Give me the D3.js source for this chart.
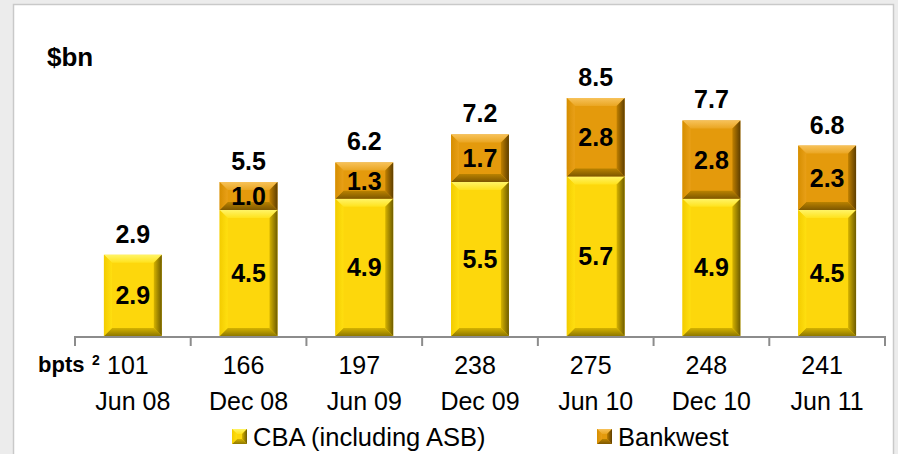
<!DOCTYPE html>
<meta charset="utf-8">
<script src="https://d3js.org/d3.v7.min.js"></script>
<style>
  body { margin: 0; background: #ececec; }
  svg { font-family: "Liberation Sans", Arial, sans-serif; }
</style>
<div id="my_dataviz"></div>
<script>

  // data
  var periods = ["Jun 08", "Dec 08", "Jun 09", "Dec 09", "Jun 10", "Dec 10", "Jun 11"];
  var cba = [2.9, 4.5, 4.9, 5.5, 5.7, 4.9, 4.5];
  var bankwest = [0, 1.0, 1.3, 1.7, 2.8, 2.8, 2.3];
  var totals = [2.9, 5.5, 6.2, 7.2, 8.5, 7.7, 6.8];
  var bpts = [101, 166, 197, 238, 275, 248, 241];

  var width = 898, height = 454;

  var svg = d3.select("#my_dataviz")
    .append("svg")
      .attr("width", width)
      .attr("height", height);

  // white slide panel with grey frame
  svg.append("rect")
    .attr("x", 13.5).attr("y", 4.5)
    .attr("width", 880).attr("height", 460)
    .style("fill", "white")
    .style("stroke", "#c9c9c9")
    .style("stroke-width", 1.5);

  // scales
  var x = d3.scaleBand()
    .domain(periods)
    .range([75, 885])
    .paddingInner(0.5)
    .paddingOuter(0.25);

  var y = d3.scaleLinear()
    .domain([0, 10])
    .range([336, 56]);

  // colour sets for the bevelled bars
  var styles = {
    cba: { face: "#fdd70c", top: ["#fff467", "#ffe21c"], left: ["#f3cc00", "#ffdf10"],
           right: ["#d6b300", "#6e5c00"], bottom: ["#d4b200", "#8f7800"] },
    bw:  { face: "#e49a0c", top: ["#f7c25a", "#eaa622"], left: ["#d68e00", "#e9a018"],
           right: ["#c08000", "#5e3e00"], bottom: ["#b98200", "#7d5700"] }
  };

  var defs = svg.append("defs");
  function grad(id, c, x1, y1, x2, y2) {
    var g = defs.append("linearGradient").attr("id", id)
      .attr("x1", x1).attr("y1", y1).attr("x2", x2).attr("y2", y2);
    g.append("stop").attr("offset", "0%").attr("stop-color", c[0]);
    g.append("stop").attr("offset", "100%").attr("stop-color", c[1]);
  }
  Object.keys(styles).forEach(function(k) {
    var s = styles[k];
    grad(k + "-top", s.top, 0, 0, 0, 1);
    grad(k + "-left", s.left, 0, 0, 1, 0);
    grad(k + "-right", s.right, 0, 0, 1, 0);
    grad(k + "-bottom", s.bottom, 0, 0, 0, 1);
  });

  // a pyramid-bevel box
  function bevel(g, x0, y0, w, h, key) {
    var b = Math.min(8, h / 3, w / 3);
    var x1 = x0 + w, y1 = y0 + h;
    g.append("rect").attr("x", x0).attr("y", y0).attr("width", w).attr("height", h)
      .style("fill", styles[key].face);
    var pts = {
      top: [[x0, y0], [x1, y0], [x1 - b, y0 + b], [x0 + b, y0 + b]],
      bottom: [[x0, y1], [x1, y1], [x1 - b, y1 - b], [x0 + b, y1 - b]],
      left: [[x0, y0], [x0 + b, y0 + b], [x0 + b, y1 - b], [x0, y1]],
      right: [[x1, y0], [x1 - b, y0 + b], [x1 - b, y1 - b], [x1, y1]]
    };
    Object.keys(pts).forEach(function(side) {
      g.append("polygon")
        .attr("points", pts[side].map(function(p) { return p.join(","); }).join(" "))
        .style("fill", "url(#" + key + "-" + side + ")");
    });
  }

  // bars
  var bars = svg.append("g");
  periods.forEach(function(p, i) {
    var bx = x(p), bw = x.bandwidth();
    bevel(bars, bx, y(cba[i]), bw, y(0) - y(cba[i]), "cba");
    if (bankwest[i] > 0) {
      var top = y(cba[i] + bankwest[i]);
      bevel(bars, bx, top, bw, y(cba[i]) - top, "bw");
    }
  });

  // axis line and ticks
  var axis = svg.append("g").style("stroke", "#8c8c8c").style("stroke-width", 2);
  axis.append("line")
    .attr("x1", x.range()[0]).attr("x2", x.range()[1])
    .attr("y1", y(0) + 1).attr("y2", y(0) + 1);
  d3.range(periods.length + 1).forEach(function(i) {
    var tx = x.range()[0] + i * x.step();
    axis.append("line")
      .attr("x1", tx).attr("x2", tx)
      .attr("y1", y(0)).attr("y2", y(0) + 10);
  });

  // value labels inside the segments
  var labels = svg.append("g")
    .style("font-weight", "bold")
    .style("font-size", "25px")
    .attr("text-anchor", "middle");

  periods.forEach(function(p, i) {
    var cx = x(p) + x.bandwidth() / 2;
    labels.append("text")
      .attr("x", cx)
      .attr("y", (y(0) + y(cba[i])) / 2 + 9)
      .text(cba[i].toFixed(1));
    if (bankwest[i] > 0) {
      labels.append("text")
        .attr("x", cx)
        .attr("y", (y(cba[i]) + y(cba[i] + bankwest[i])) / 2 + 9)
        .text(bankwest[i].toFixed(1));
    }
    labels.append("text")
      .attr("x", cx)
      .attr("y", y(cba[i] + bankwest[i]) - 12)
      .text(totals[i].toFixed(1));
  });

  // category labels: bpts row and dates
  var cats = svg.append("g")
    .style("font-size", "25px")
    .attr("text-anchor", "middle");
  periods.forEach(function(p, i) {
    var cx = x(p) + x.bandwidth() / 2;
    cats.append("text").attr("x", cx - 5).attr("y", 374).text(bpts[i]);
    cats.append("text").attr("x", cx).attr("y", 410).text(p);
  });

  svg.append("text")
    .attr("x", 38).attr("y", 372)
    .style("font-weight", "bold")
    .style("font-size", "22px")
    .text("bpts");
  svg.append("text")
    .attr("x", 92).attr("y", 365)
    .style("font-weight", "bold")
    .style("font-size", "14px")
    .text("2");

  // unit label
  svg.append("text")
    .attr("x", 47).attr("y", 66)
    .style("font-weight", "bold")
    .style("font-size", "26px")
    .text("$bn");

  // legend
  var legend = [
    { name: "CBA (including ASB)", key: "cba", x: 232 },
    { name: "Bankwest", key: "bw", x: 597 }
  ];
  legend.forEach(function(l) {
    var g = svg.append("g");
    bevel(g, l.x, 429, 15, 15, l.key);
    g.append("text")
      .attr("x", l.x + 21).attr("y", 446)
      .style("font-size", "25.5px")
      .text(l.name);
  });

</script>
